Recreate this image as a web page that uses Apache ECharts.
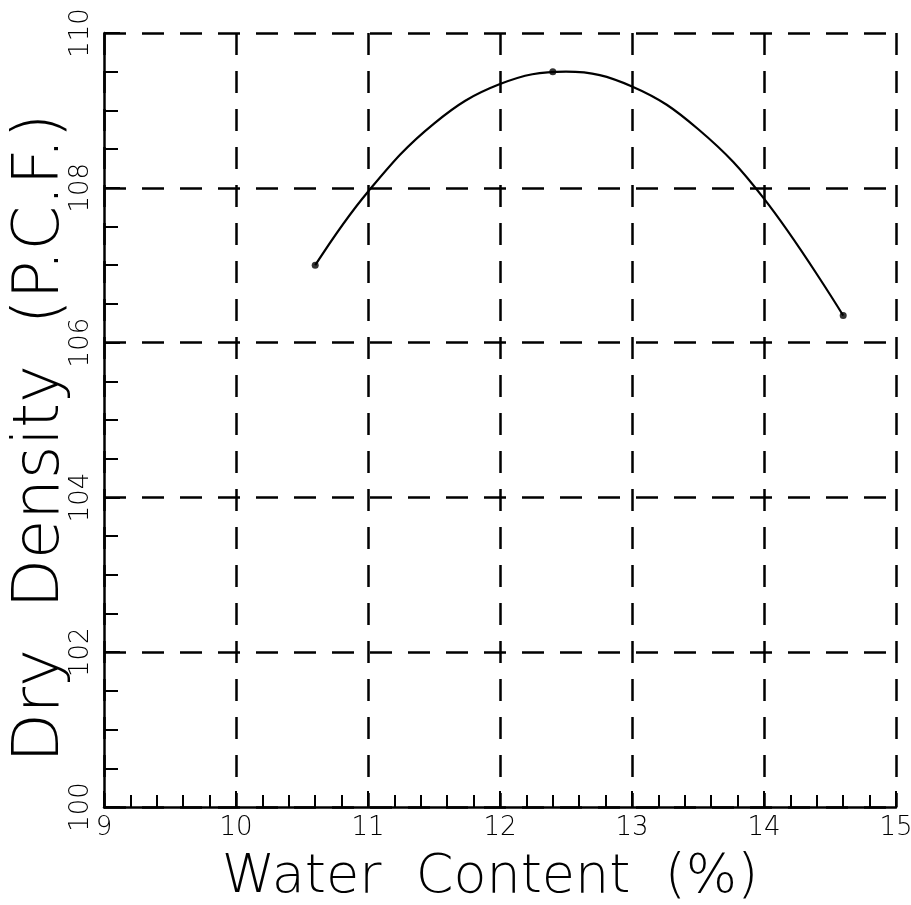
<!DOCTYPE html>
<html>
<head>
<meta charset="utf-8">
<script src="https://cdn.jsdelivr.net/npm/echarts@6/dist/echarts.min.js"></script>
<style>
  html, body { margin: 0; padding: 0; background: #fff; }
  #chart { width: 911px; height: 905px; }
</style>
</head>
<body>
<div id="chart"></div>
<script>
// Compaction test results: measured points
const waterContent = [10.6, 12.4, 14.6];
const dryDensity = [107.0, 109.5, 106.35];

// Fitted compaction curve, sampled along water content
const curveWater = [10.6, 11.0, 11.5, 12.0, 12.5, 13.0, 13.5, 14.0, 14.6];
const curveDensity = [107.0, 107.95, 108.83, 109.34, 109.5, 109.31, 108.76, 107.86, 106.35];

const xTicks = { min: 9, max: 15, step: 1 };
const yTicks = { min: 100, max: 110, step: 2 };

const FONT = '"DejaVu Sans", sans-serif';
const dash = [22, 16];

const chart = echarts.init(document.getElementById('chart'), null, { renderer: 'canvas' });

chart.setOption({
  backgroundColor: '#ffffff',
  animation: false,
  grid: { left: 104, right: 15, top: 33, bottom: 98, containLabel: false, outerBoundsMode: 'none' },
  xAxis: {
    type: 'value',
    min: xTicks.min, max: xTicks.max, interval: xTicks.step,
    name: 'Water  Content  (%)',
    nameLocation: 'middle',
    nameGap: 44,
    nameTextStyle: { fontFamily: FONT, fontWeight: 200, fontSize: 54, color: '#000', padding: [0, 0, 0, -20] },
    axisLine: { show: true, onZero: false, lineStyle: { color: '#000', width: 2.5 } },
    axisTick: { show: true, inside: true, length: 16, lineStyle: { color: '#000', width: 2 } },
    minorTick: { show: true, splitNumber: 5, length: 12, lineStyle: { color: '#000', width: 2 } },
    axisLabel: { fontFamily: FONT, fontWeight: 200, fontSize: 26, color: '#000', margin: 8 },
    splitLine: { show: true, lineStyle: { color: '#000', width: 2.5, type: dash } }
  },
  yAxis: {
    type: 'value',
    min: yTicks.min, max: yTicks.max, interval: yTicks.step,
    name: 'Dry  Density  (P.C.F.)',
    nameLocation: 'middle',
    nameGap: 31,
    nameMoveOverlap: false,
    nameRotate: 90,
    nameTextStyle: { fontFamily: FONT, fontWeight: 200, fontSize: 64, color: '#000', padding: [0, 36, 0, 0] },
    axisLine: { show: true, onZero: false, lineStyle: { color: '#000', width: 2.5 } },
    axisTick: { show: true, inside: true, length: 16, lineStyle: { color: '#000', width: 2 } },
    minorTick: { show: true, splitNumber: 4, length: 14, lineStyle: { color: '#000', width: 2 } },
    axisLabel: { fontFamily: FONT, fontWeight: 200, fontSize: 26, color: '#000', rotate: 90, margin: 10 },
    splitLine: { show: true, lineStyle: { color: '#000', width: 2.5, type: dash } }
  },
  series: [
    {
      name: 'fit',
      type: 'line',
      data: curveWater.map((w, i) => [w, curveDensity[i]]),
      smooth: 0.4,
      showSymbol: false,
      lineStyle: { color: '#000', width: 2.2 },
      z: 3
    },
    {
      name: 'tests',
      type: 'scatter',
      data: waterContent.map((w, i) => [w, dryDensity[i]]),
      symbol: 'circle',
      symbolSize: 7,
      itemStyle: { color: '#000' },
      z: 4
    }
  ]
});
</script>
</body>
</html>
